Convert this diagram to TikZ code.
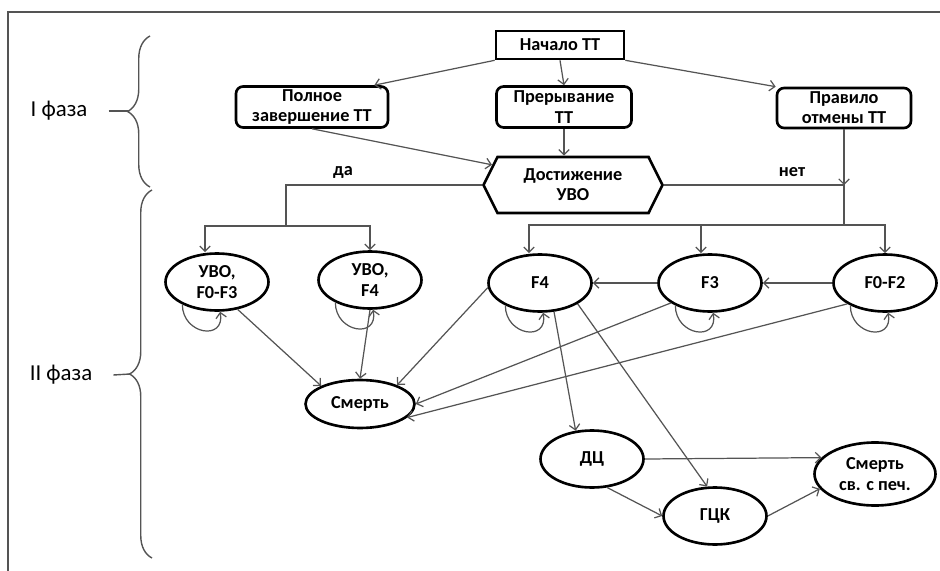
\documentclass[tikz,border=0pt]{standalone}
\usepackage{fontspec}
\setmainfont{Carlito}
\usepackage{tikz}
\usetikzlibrary{shapes.geometric,shapes.symbols,arrows.meta,decorations.pathreplacing}
\usepackage{xcolor}
\definecolor{edgegray}{rgb}{0.33,0.33,0.33}

\begin{document}
\begin{tikzpicture}[x=0.02cm,y=-0.02cm,
    >={Straight Barb[length=3pt,width=6pt]},
    box/.style={draw,line width=1.5pt,rounded corners=4pt,align=center,inner sep=0pt,font=\fontsize{10.4}{11.5}\selectfont\bfseries},
    hexa/.style={draw,line width=1.5pt,signal,signal to=west and east,signal pointer angle=127,align=center,inner sep=0pt,minimum width=3.58cm,minimum height=1.12cm,font=\fontsize{10.4}{11.5}\selectfont\bfseries},
    state/.style={draw,ellipse,line width=1.5pt,align=center,inner sep=0pt,minimum width=2.06cm,minimum height=1.14cm,font=\fontsize{10.4}{11.5}\selectfont\bfseries},
    link/.style={->,draw=edgegray,line width=0.7pt},
    phase/.style={font=\fontsize{13}{15}\selectfont}]
    \useasboundingbox (0,0) rectangle (940,571);
    \draw[line width=1.2pt,edgegray] (8,571)--(8,12)--(940,12);

    \node[phase] (phase1) at (59,111) {I фаза};
    \node[phase] (phase2) at (61,375) {II фаза};
    \draw[edgegray,line width=0.8pt,decorate,decoration={brace,amplitude=0.45cm}] (150,187)--(150,36);
    \draw[edgegray,line width=0.8pt,decorate,decoration={brace,amplitude=0.45cm}] (152,558)--(152,190);
    \coordinate (cusp1) at (128,111);
    \coordinate (cusp2) at (130,374);
    \draw[edgegray,line width=0.8pt] ([xshift=0.3cm]phase1.east)--(cusp1);
    \draw[edgegray,line width=0.8pt] ([xshift=0.3cm]phase2.east)--(cusp2);

    \node[box,sharp corners,minimum width=2.56cm,minimum height=0.56cm] (start) at (560,45) {Начало ТТ};
    \node[box,minimum width=3.04cm,minimum height=0.82cm] (full) at (312,107) {Полное\\завершение ТТ};
    \node[box,minimum width=2.7cm,minimum height=0.82cm] (interrupt) at (564,107) {Прерывание\\ТТ};
    \node[box,minimum width=2.68cm,minimum height=0.8cm] (rule) at (844,108) {Правило\\отмены ТТ};
    \node[hexa] (goal) at (573,185) {Достижение\\УВО};

    \node[state] (uvo1) at (217,282) {УВО,\\F0-F3};
    \node[state] (uvo2) at (370,280) {УВО,\\F4};
    \node[state] (f4) at (540,283) {F4};
    \node[state] (f3) at (710,283) {F3};
    \node[state] (f02) at (885,283) {F0-F2};
    \node[state,minimum width=2.18cm,minimum height=0.96cm] (death) at (360,404) {Смерть};
    \node[state] (dc) at (592,459) {ДЦ};
    \node[state] (gck) at (715,516) {ГЦК};
    \node[state,minimum width=2.42cm,minimum height=1.26cm] (liver) at (875,474) {Смерть\\св. с печ.};

    \node[font=\fontsize{10.4}{11.5}\selectfont\bfseries] (yes) at (343,172) {да};
    \node[font=\fontsize{10.4}{11.5}\selectfont\bfseries] (no) at (792,172) {нет};

    \draw[link] (start.south west)--([xshift=-0.3cm]full.north east);
    \draw[link] (start.south)--(interrupt.north);
    \draw[link] (start.south east)--(rule.north west);
    \draw[link] (interrupt.south)--(interrupt.south |- goal.north);
    \draw[link] (full.south)--(goal.166);

    \coordinate (yesbus) at (286,226);
    \coordinate (nojoin) at (844,185);
    \coordinate (nobus) at (844,225);
    \draw[edgegray,line width=0.7pt] (goal.west)--(goal.west -| yesbus)--(yesbus);
    \draw[link] (yesbus)-|([xshift=-0.24cm]uvo1.north);
    \draw[link] (yesbus)-|(uvo2.north);
    \draw[edgegray,line width=0.7pt] (goal.east)--(nojoin)--(nobus);
    \draw[link] (rule.south)--(nojoin);
    \draw[link] (nobus)-|([xshift=-0.22cm]f4.north);
    \draw[link] (nobus)-|([xshift=-0.18cm]f3.north);
    \draw[link] (nobus)-|(f02.north);

    \draw[link] (uvo1.213) to[out=-90,in=-80,looseness=2] (uvo1.276);
    \draw[link] (uvo2.213) to[out=-90,in=-80,looseness=2] (uvo2.276);
    \draw[link] (f4.213) to[out=-90,in=-80,looseness=2] (f4.276);
    \draw[link] (f3.213) to[out=-90,in=-80,looseness=2] (f3.276);
    \draw[link] (f02.213) to[out=-90,in=-80,looseness=2] (f02.276);

    \draw[link] (f3.west)--(f4.east);
    \draw[link] (f02.west)--(f3.east);
    \draw[link] (uvo1.-53)--(death.155);
    \draw[link] (uvo2.south)--(death.north);
    \draw[link] (f4.185)--(death.27);
    \draw[link] (f3.207)--(death.east);
    \draw[link] (f02.209)--(death.-16);
    \draw[link] (f4.-64)--(dc.120);
    \draw[link] (f4.-29)--(gck.105);
    \draw[link] (dc.east)--(liver.163);
    \draw[link] (dc.-62)--(gck.west);
    \draw[link] (gck.east)--(liver.195);
\end{tikzpicture}
\end{document}
